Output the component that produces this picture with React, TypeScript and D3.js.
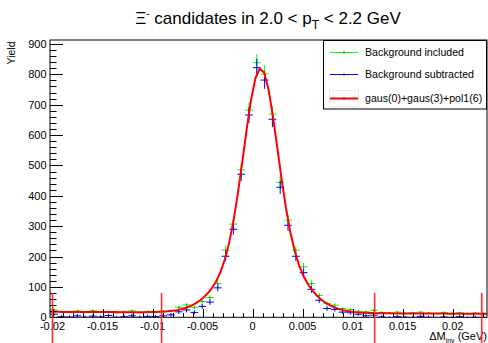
import { useEffect, useRef } from "react"
import * as d3 from "d3"

// bin centers (GeV), bin width 0.00078
const binCenters = [
  -0.01986, -0.01908, -0.0183, -0.01752, -0.01674, -0.01596, -0.01518, -0.0144, -0.01362, -0.01284,
  -0.01206, -0.01128, -0.0105, -0.00972, -0.00894, -0.00816, -0.00738, -0.0066, -0.00582, -0.00504,
  -0.00426, -0.00348, -0.0027, -0.00192, -0.00114, -0.00036, 0.00042, 0.0012, 0.00198, 0.00276,
  0.00354, 0.00432, 0.0051, 0.00588, 0.00666, 0.00744, 0.00822, 0.009, 0.00978, 0.01056,
  0.01134, 0.01212, 0.0129, 0.01368, 0.01446, 0.01524, 0.01602, 0.0168, 0.01758, 0.01836,
  0.01914, 0.01992, 0.0207, 0.02148, 0.02226, 0.02304,
]
const binWidth = 0.00078

const bgIncluded = [
  24, 18, 17, 21, 16, 22, 18, 19, 15, 18, 21, 16, 19, 17, 20, 22, 33, 41, 33, 52,
  65, 111, 221, 307, 485, 682, 838, 801, 669, 444, 320, 221, 166, 111, 72, 45, 40, 29, 25, 20,
  18, 23, 16, 14, 17, 13, 15, 17, 14, 12, 16, 13, 15, 12, 14, 13,
]
const bgSubtracted = [
  10, 2, 1, 5, 0, 4, 1, 6, 0, 2, 5, 0, 3, 2, 5, 8, 18, 24, 16, 36,
  50, 97, 201, 290, 471, 666, 822, 781, 652, 428, 303, 201, 147, 92, 56, 29, 26, 17, 15, 10,
  5, 7, 1, -2, 2, 0, -1, 3, 0, -3, 1, -1, 2, -2, 0, -1,
]

// gaus(0)+gaus(3)+pol1(6)
const fitParams = [555, 0.0008, 0.0016, 250, 0.0009, 0.0032, 15, -150]

const sidebandLines = [-0.02, -0.0091, 0.0122, 0.0229]
const xTicks = [-0.02, -0.015, -0.01, -0.005, 0, 0.005, 0.01, 0.015, 0.02]
const yTicks = [0, 100, 200, 300, 400, 500, 600, 700, 800, 900]
const legendLabels = ["Background included", "Background subtracted", "gaus(0)+gaus(3)+pol1(6)"]
const legendColors = ["#00ff00", "#0000ff", "#ff0000"]

const W = 488
const H = 343
const FONT = "'Liberation Sans', Arial, Helvetica, sans-serif"

export default function App() {
  const svgRef = useRef<SVGSVGElement | null>(null)

  useEffect(() => {
    if (!svgRef.current) return
    const svg = d3.select(svgRef.current)
    svg.selectAll("*").remove()

    const left = 50
    const right = 487
    const top = 40
    const bottom = 317.3

    const x = d3.scaleLinear().domain([-0.02025, 0.02343]).range([left, right])
    const y = d3.scaleLinear().domain([0, 913]).range([bottom, top])

    svg.append("rect").attr("width", W).attr("height", H).attr("fill", "#fff")

    svg
      .append("defs")
      .append("clipPath")
      .attr("id", "frame")
      .append("rect")
      .attr("x", left)
      .attr("y", top)
      .attr("width", right - left)
      .attr("height", bottom - top)

    // title
    const title = svg
      .append("text")
      .attr("x", 268)
      .attr("y", 24)
      .attr("text-anchor", "middle")
      .attr("font-family", FONT)
      .attr("font-size", 17)
      .attr("fill", "#000")
    title.append("tspan").text("Ξ")
    title.append("tspan").attr("font-size", 10).attr("dy", -7).text("-")
    title.append("tspan").attr("dy", 7).text(" candidates in 2.0 < p")
    title.append("tspan").attr("font-size", 12).attr("dy", 5).text("T")
    title.append("tspan").attr("dy", -5).text(" < 2.2 GeV")

    const plot = svg.append("g").attr("clip-path", "url(#frame)")

    // data points with error bars
    const drawSeries = (vals: number[], errs: number[], color: string) => {
      const g = plot.append("g").attr("stroke", color).attr("stroke-width", 1).attr("fill", "none")
      vals.forEach((v, i) => {
        const c = binCenters[i]
        g.append("line")
          .attr("x1", x(c - binWidth / 2))
          .attr("x2", x(c + binWidth / 2))
          .attr("y1", y(v))
          .attr("y2", y(v))
        g.append("line")
          .attr("x1", x(c))
          .attr("x2", x(c))
          .attr("y1", y(v - errs[i]))
          .attr("y2", y(v + errs[i]))
      })
      plot
        .append("g")
        .selectAll("rect")
        .data(vals)
        .enter()
        .append("rect")
        .attr("x", (d, i) => x(binCenters[i]) - 0.5)
        .attr("y", (d) => y(d) - 0.5)
        .attr("width", 1)
        .attr("height", 1)
        .attr("fill", "#000")
        .attr("opacity", 0.6)
    }

    drawSeries(
      bgIncluded,
      bgIncluded.map((v) => Math.sqrt(Math.max(v, 1))),
      "#00ff00",
    )
    drawSeries(
      bgSubtracted,
      bgSubtracted.map((v, i) => Math.sqrt(Math.max(bgIncluded[i] + (bgIncluded[i] - v), 1))),
      "#0000ff",
    )

    // fit function
    const [a1, m1, s1, a2, m2, s2, p0, p1] = fitParams
    const fit = (t: number) =>
      a1 * Math.exp(-0.5 * ((t - m1) / s1) ** 2) + a2 * Math.exp(-0.5 * ((t - m2) / s2) ** 2) + p0 + p1 * t
    const [x0, x1] = x.domain()
    const samples = d3.range(0, 101).map((i) => x0 + ((x1 - x0) * i) / 100)
    plot
      .append("path")
      .datum(samples)
      .attr("fill", "none")
      .attr("stroke", "#ff0000")
      .attr("stroke-width", 2)
      .attr("d", d3.line<number>().x((d) => x(d)).y((d) => y(fit(d))))

    // frame
    svg
      .append("rect")
      .attr("x", left)
      .attr("y", top)
      .attr("width", right - left)
      .attr("height", bottom - top)
      .attr("fill", "none")
      .attr("stroke", "#000")
      .attr("stroke-width", 1)

    // y axis ticks
    const yAxis = svg.append("g").attr("stroke", "#000").attr("stroke-width", 1)
    d3.range(0, 913, 20).forEach((v) => {
      const major = v % 100 === 0
      yAxis
        .append("line")
        .attr("x1", left)
        .attr("x2", left + (major ? 13 : 6.5))
        .attr("y1", Math.round(y(v)) + 0.5)
        .attr("y2", Math.round(y(v)) + 0.5)
    })
    svg
      .append("g")
      .selectAll("text")
      .data(yTicks)
      .enter()
      .append("text")
      .attr("x", 46.5)
      .attr("y", (d) => y(d) + 4)
      .attr("text-anchor", "end")
      .attr("font-family", FONT)
      .attr("font-size", 11)
      .attr("fill", "#000")
      .text((d) => d)

    // x axis ticks
    const xAxis = svg.append("g").attr("stroke", "#000").attr("stroke-width", 1)
    d3.range(-20, 24).forEach((k) => {
      const v = k / 1000
      const major = k % 5 === 0
      xAxis
        .append("line")
        .attr("x1", Math.round(x(v)) + 0.5)
        .attr("x2", Math.round(x(v)) + 0.5)
        .attr("y1", bottom)
        .attr("y2", bottom - (major ? 8.3 : 4.2))
    })
    svg
      .append("g")
      .selectAll("text")
      .data(xTicks)
      .enter()
      .append("text")
      .attr("x", (d) => x(d))
      .attr("y", 329.5)
      .attr("text-anchor", "middle")
      .attr("font-family", FONT)
      .attr("font-size", 11)
      .attr("fill", "#000")
      .text((d) => (d === 0 ? "0" : String(+d.toFixed(3))))

    // axis titles
    svg
      .append("text")
      .attr("transform", "translate(15,41.5) rotate(-90)")
      .attr("text-anchor", "end")
      .attr("font-family", FONT)
      .attr("font-size", 10.5)
      .attr("fill", "#000")
      .text("Yield")

    const xt = svg
      .append("text")
      .attr("x", 487)
      .attr("y", 340)
      .attr("text-anchor", "end")
      .attr("font-family", FONT)
      .attr("font-size", 11)
      .attr("fill", "#000")
    xt.append("tspan").text("ΔM")
    xt.append("tspan").attr("font-size", 7).attr("dy", 2.5).text("inv")
    xt.append("tspan").attr("dy", -2.5).text(" (GeV)")

    // sideband markers
    svg
      .append("g")
      .selectAll("line")
      .data(sidebandLines)
      .enter()
      .append("line")
      .attr("x1", (d) => x(d))
      .attr("x2", (d) => x(d))
      .attr("y1", y(80))
      .attr("y2", H + 5)
      .attr("stroke", "#ff2a2a")
      .attr("stroke-width", 1.6)

    // legend
    const lg = svg.append("g")
    lg.append("rect")
      .attr("x", 323.5)
      .attr("y", 40.5)
      .attr("width", 163)
      .attr("height", 68.5)
      .attr("fill", "#fff")
      .attr("stroke", "#000")
      .attr("stroke-width", 1)
    lg.append("rect")
      .attr("x", 329.5)
      .attr("y", 90.5)
      .attr("width", 29)
      .attr("height", 16)
      .attr("fill", "none")
      .attr("stroke", "#e8e8e8")
      .attr("stroke-width", 1)
    const rows = [52.5, 74.5, 98.5]
    legendLabels.forEach((label, i) => {
      lg.append("line")
        .attr("x1", 330)
        .attr("x2", 358)
        .attr("y1", rows[i])
        .attr("y2", rows[i])
        .attr("stroke", legendColors[i])
        .attr("stroke-width", i === 2 ? 2 : 1)
      lg.append("rect")
        .attr("x", 343.5)
        .attr("y", rows[i] - 1)
        .attr("width", 1)
        .attr("height", 2)
        .attr("fill", "#222")
      lg.append("text")
        .attr("x", 365)
        .attr("y", rows[i] + 3.8)
        .attr("font-family", FONT)
        .attr("font-size", 10.6)
        .attr("fill", "#000")
        .text(label)
    })
  }, [])

  return (
    <div style={{ width: W, height: H }}>
      <style>{"body{margin:0}"}</style>
      <svg ref={svgRef} width={W} height={H} style={{ display: "block" }}></svg>
    </div>
  )
}
